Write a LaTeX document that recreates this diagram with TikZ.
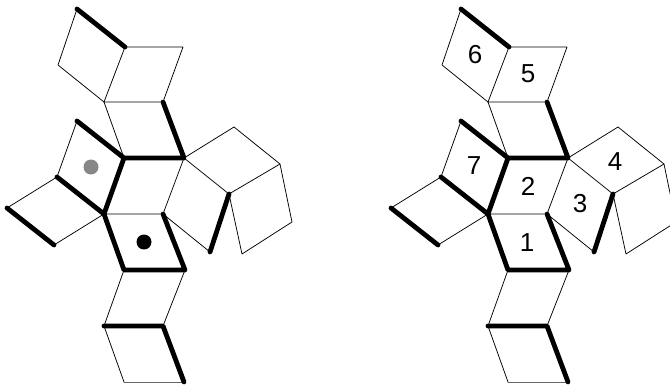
\documentclass[tikz,border=0pt]{standalone}
\usepackage{fontspec}
\setmainfont{Liberation Sans}
\tikzset{
  thinedge/.style={draw=black,line width=0.75pt,line cap=round,line join=round},
  thickedge/.style={draw=black,line width=4.8pt,line cap=round,line join=round},
  numlabel/.style={font=\fontsize{26}{26}\selectfont,inner sep=0pt,text=black},
  dotmark/.style={circle,inner sep=0pt,minimum size=15pt}
}
\newcommand{\tilingfig}{%
  \coordinate (A) at (77,9);
  \coordinate (B) at (125,47);
  \coordinate (C) at (183,47);
  \coordinate (D) at (163,102);
  \coordinate (E) at (104,102);
  \coordinate (F) at (58,65);
  \coordinate (G) at (124,158);
  \coordinate (H) at (184,158);
  \coordinate (I) at (77,121);
  \coordinate (J) at (57,177);
  \coordinate (K) at (104,214);
  \coordinate (L) at (7,208);
  \coordinate (M) at (54,245);
  \coordinate (N) at (163,214);
  \coordinate (O) at (185,270);
  \coordinate (P) at (124,270);
  \coordinate (Q) at (104,326);
  \coordinate (R) at (163,326);
  \coordinate (S) at (184,382);
  \coordinate (T) at (124,382);
  \coordinate (U) at (234,127);
  \coordinate (V) at (280,164);
  \coordinate (W) at (229,194);
  \coordinate (X) at (210,252);
  \coordinate (Y) at (292,222);
  \coordinate (Z) at (242,254);
  \draw[thinedge] (B) -- (C) -- (D) -- (E) -- (B);
  \draw[thinedge] (E) -- (F) -- (A);
  \draw[thinedge] (E) -- (G);
  \draw[thinedge] (I) -- (J);
  \draw[thinedge] (J) -- (L);
  \draw[thinedge] (M) -- (K) -- (N) -- (H);
  \draw[thinedge] (H) -- (U) -- (V) -- (W) -- (H);
  \draw[thinedge] (N) -- (X);
  \draw[thinedge] (W) -- (Z) -- (Y) -- (V);
  \draw[thinedge] (P) -- (Q);
  \draw[thinedge] (O) -- (R);
  \draw[thinedge] (Q) -- (T);
  \draw[thinedge,draw=black!60] (T) -- (S);
  \draw[thickedge] (A) -- (B);
  \draw[thickedge] (D) -- (H) -- (G) -- (I);
  \draw[thickedge] (G) -- (K) -- (J);
  \draw[thickedge] (L) -- (M);
  \draw[thickedge] (K) -- (P) -- (O) -- (N);
  \draw[thickedge] (W) -- (X);
  \draw[thickedge] (Q) -- (R) -- (S);
}
\begin{document}
\begin{tikzpicture}[x=1pt,y=-1pt]
  \useasboundingbox (0,0) rectangle (670,386);
  \clip (0,0) rectangle (670,386);
  \begin{scope}[name prefix=left-]
    \tilingfig
    \node[dotmark,fill=black!47] (graydot) at (91,167) {};
    \node[dotmark,fill=black] (blackdot) at (144,242) {};
  \end{scope}
  \begin{scope}[xshift=384pt,yshift=0pt,name prefix=right-]
    \tilingfig
    \node[numlabel] (n6) at (91,55) {6};
    \node[numlabel] (n5) at (144,74) {5};
    \node[numlabel] (n7) at (90,166) {7};
    \node[numlabel] (n2) at (144,186) {2};
    \node[numlabel] (n4) at (231,162) {4};
    \node[numlabel] (n3) at (196,204) {3};
    \node[numlabel] (n1) at (143,243) {1};
  \end{scope}
\end{tikzpicture}
\end{document}
